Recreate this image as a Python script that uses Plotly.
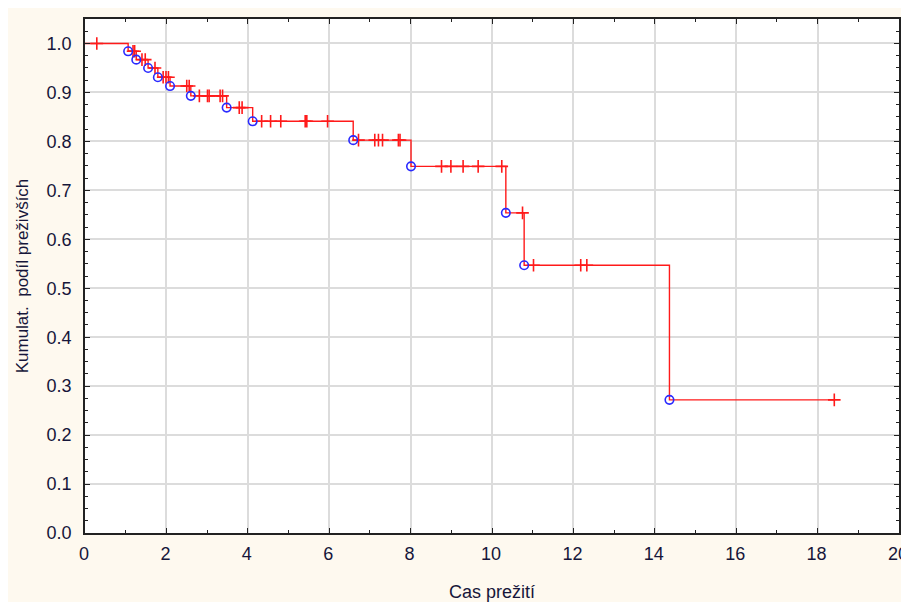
import plotly.graph_objects as go

# Kaplan-Meier estimate
event_times = [1.06, 1.26, 1.55, 1.79, 2.09, 2.60, 3.48, 4.12, 6.59, 8.01, 10.34, 10.79, 14.36]
event_surv = [0.984, 0.967, 0.950, 0.931, 0.913, 0.893, 0.869, 0.841, 0.8025, 0.749, 0.654, 0.547, 0.272]

censor_times = [0.29, 1.18, 1.22, 1.40, 1.48, 1.72, 1.92, 1.99, 2.05, 2.50, 2.56,
                2.81, 3.01, 3.05, 3.32, 3.38, 3.79, 3.86, 4.34, 4.56, 4.81, 5.41,
                5.45, 5.96, 6.72, 7.12, 7.21, 7.31, 7.70, 7.74, 8.76, 8.99, 9.29,
                9.66, 10.24, 10.75, 11.02, 12.18, 12.33, 18.41]

x_ticks = [0, 2, 4, 6, 8, 10, 12, 14, 16, 18, 20]
x_ticklabels = ["0", "2", "4", "6", "8", "10", "12", "14", "16", "18", "20"]
y_ticks = [0.0, 0.1, 0.2, 0.3, 0.4, 0.5, 0.6, 0.7, 0.8, 0.9, 1.0]
x_title = "Cas prežití"
y_title = "Kumulat.  podíl preživších"


def surv_at(t):
    s = 1.0
    for et, es in zip(event_times, event_surv):
        if et <= t:
            s = es
    return s


censor_surv = [surv_at(t) for t in censor_times]

step_x = [0.0] + event_times + [max(censor_times)]
step_y = [1.0] + event_surv + [event_surv[-1]]

RED = "#ff1a1a"
BLUE = "#2a2aff"
CREAM = "#fef9ef"
TXT = "#16163a"
FONT = "Liberation Sans, Arial, sans-serif"

fig = go.Figure()
fig.add_trace(go.Scatter(x=step_x, y=step_y, mode="lines", line_shape="hv",
                         line=dict(color=RED, width=1.4), hoverinfo="skip",
                         showlegend=False))
fig.add_trace(go.Scatter(x=censor_times, y=censor_surv, mode="markers",
                         marker=dict(symbol="cross-thin", size=9, color=RED,
                                     line=dict(color=RED, width=1.6)),
                         showlegend=False))
fig.add_trace(go.Scatter(x=event_times, y=event_surv, mode="markers",
                         marker=dict(symbol="circle-open", size=8.5, color=BLUE,
                                     line=dict(color=BLUE, width=1.6)),
                         showlegend=False))

axis_common = dict(
    showline=True, linecolor="#222222", linewidth=1.5, mirror="ticks",
    ticks="inside", ticklen=5, tickwidth=1, tickcolor="#222222",
    showgrid=True, gridcolor="#dcdcdc", gridwidth=1.5, zeroline=False,
    automargin=False, ticklabeloverflow="allow",
    tickfont=dict(family=FONT, size=18, color=TXT),
)

fig.update_layout(
    width=901, height=594,
    margin=dict(l=77, r=10, t=11, b=69),
    paper_bgcolor=CREAM, plot_bgcolor="white",
    xaxis=dict(range=[0, 20], tickvals=x_ticks, ticktext=x_ticklabels,
               ticklabelstandoff=4, ticklabelshift=-1,
               minor=dict(dtick=1, ticks="inside", ticklen=3, tickcolor="#222222",
                          showgrid=False),
               title=dict(text=x_title, standoff=26,
                          font=dict(family=FONT, size=18, color=TXT)),
               **axis_common),
    yaxis=dict(range=[0, 1.05], tickvals=y_ticks, ticktext=[f"{v:.1f}" for v in y_ticks],
               ticklabelstandoff=8,
               minor=dict(dtick=0.025, ticks="inside", ticklen=3, tickcolor="#222222",
                          showgrid=False),
               title=dict(text=y_title, standoff=14,
                          font=dict(family=FONT, size=17, color=TXT)),
               **axis_common),
)

fig.write_html("out.html")
